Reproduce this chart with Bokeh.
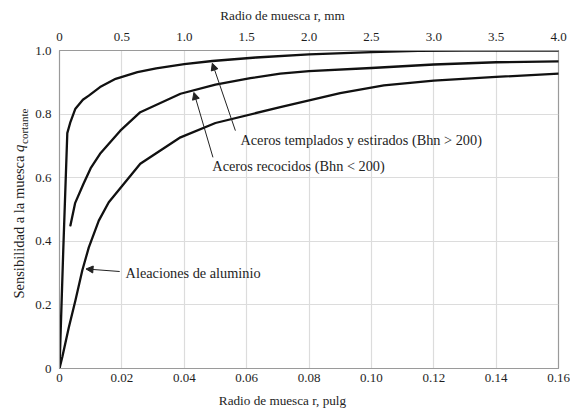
import math
from bokeh.plotting import figure
from bokeh.models import (Range1d, LinearAxis, FixedTicker, Label, Arrow, NormalHead)
from bokeh.embed import file_html
from bokeh.resources import INLINE

# ---- data ----
x_temp = [0, 0.0012, 0.0025, 0.0035, 0.0051, 0.0075, 0.0094, 0.013, 0.018, 0.025,
          0.031, 0.04, 0.049, 0.063, 0.08, 0.1, 0.115, 0.13, 0.16]
y_temp = [0, 0.37, 0.74, 0.775, 0.817, 0.845, 0.858, 0.885, 0.911, 0.932,
          0.944, 0.957, 0.967, 0.978, 0.988, 0.995, 0.999, 1.0, 1.0]

x_rec = [0.0035, 0.005, 0.0077, 0.01, 0.013, 0.0195, 0.0259, 0.0388, 0.05, 0.0612,
         0.0708, 0.08, 0.1, 0.12, 0.14, 0.16]
y_rec = [0.45, 0.52, 0.581, 0.63, 0.675, 0.748, 0.806, 0.864, 0.893, 0.913,
         0.927, 0.935, 0.945, 0.956, 0.963, 0.966]

x_alu = [0, 0.0009, 0.003, 0.0051, 0.0073, 0.0094, 0.0126, 0.0158, 0.0259, 0.0388,
         0.05, 0.0708, 0.09, 0.104, 0.12, 0.14, 0.16]
y_alu = [0, 0.036, 0.13, 0.214, 0.308, 0.381, 0.465, 0.523, 0.644, 0.727,
         0.772, 0.822, 0.866, 0.89, 0.905, 0.917, 0.927]

x_ticks = [0, 0.02, 0.04, 0.06, 0.08, 0.10, 0.12, 0.14, 0.16]
x_tick_labels = ["0", "0.02", "0.04", "0.06", "0.08", "0.10", "0.12", "0.14", "0.16"]
mm_ticks = [0, 0.5, 1.0, 1.5, 2.0, 2.5, 3.0, 3.5, 4.0]
mm_tick_labels = ["0", "0.5", "1.0", "1.5", "2.0", "2.5", "3.0", "3.5", "4.0"]
y_ticks = [0, 0.2, 0.4, 0.6, 0.8, 1.0]
y_tick_labels = ["0", "0.2", "0.4", "0.6", "0.8", "1.0"]

FONT = "'Liberation Serif', serif"
TXT = "#1e1e1e"

p = figure(width=570, height=410, output_backend="svg", toolbar_location=None,
           x_range=Range1d(0, 0.16), y_range=Range1d(0, 1.0),
           min_border_left=59, min_border_right=12, min_border_top=50, min_border_bottom=42)
p.extra_x_ranges = {"mm": Range1d(0, 4.0)}

p.outline_line_color = "#9a9a9a"
p.outline_line_width = 1.2
p.background_fill_color = "white"
p.border_fill_color = "white"

xa = p.xaxis[0]
xa.ticker = FixedTicker(ticks=x_ticks)
xa.major_label_overrides = dict(zip(x_ticks, x_tick_labels))
ya = p.yaxis[0]
ya.ticker = FixedTicker(ticks=y_ticks)
ya.major_label_overrides = dict(zip(y_ticks, y_tick_labels))

top = LinearAxis(x_range_name="mm", ticker=FixedTicker(ticks=mm_ticks))
top.major_label_overrides = dict(zip(mm_ticks, mm_tick_labels))
p.add_layout(top, "above")

for ax in (xa, ya, top):
    ax.major_tick_out = 0
    ax.major_tick_in = 0
    ax.minor_tick_out = 0
    ax.minor_tick_in = 0
    ax.axis_line_color = "#9a9a9a"
    ax.major_label_text_font = FONT
    ax.major_label_text_font_size = "13px"
    ax.major_label_text_color = TXT
xa.major_label_standoff = 5
top.major_label_standoff = 10
ya.major_label_standoff = 8

p.xgrid.ticker = FixedTicker(ticks=x_ticks)
p.ygrid.ticker = FixedTicker(ticks=y_ticks)
p.grid.grid_line_color = "#dcdcdc"
p.grid.grid_line_width = 1.2

for xs, ys in ((x_temp, y_temp), (x_rec, y_rec), (x_alu, y_alu)):
    p.line(xs, ys, line_color="#111111", line_width=2.3, line_join="round", line_cap="round")


def lab(x, y, text, size="14.3px", style="normal", align="left", angle=0, side="center"):
    lb = Label(x=x, y=y, text=text, text_font=FONT, text_font_size=size,
               text_font_style=style, text_align=align, text_baseline="middle",
               text_color=TXT, angle=angle)
    p.add_layout(lb, side)


def arr(x0, y0, x1, y1):
    p.add_layout(Arrow(x_start=x0, y_start=y0, x_end=x1, y_end=y1, line_width=1,
                       line_color="#222222",
                       end=NormalHead(size=7, fill_color="#222222", line_color="#222222")))


lab(0.058, 0.717, "Aceros templados y estirados (Bhn > 200)")
arr(0.0564, 0.748, 0.049, 0.960)
lab(0.049, 0.638, "Aceros recocidos (Bhn < 200)")
arr(0.0492, 0.664, 0.0431, 0.868)
lab(0.0212, 0.299, "Aleaciones de aluminio")
arr(0.0193, 0.305, 0.0085, 0.313)

# axis titles: placed in side panels so that they are not clipped to the frame
lab(0.0715, 1.11, "Radio de muesca r, mm", size="13.2px", align="center", side="above")
lab(0.0715, -0.10, "Radio de muesca r, pulg", size="13.2px", align="center", side="below")

ang = math.pi / 2
lab(-0.01283, 0.220, "Sensibilidad a la muesca", size="14.5px", angle=ang, side="left")
lab(-0.01283, 0.681, "q", size="14.5px", style="italic", angle=ang, side="above")
lab(-0.01154, 0.706, "cortante", size="11px", angle=ang, side="left")

open("out.html", "w").write(file_html(p, INLINE))
